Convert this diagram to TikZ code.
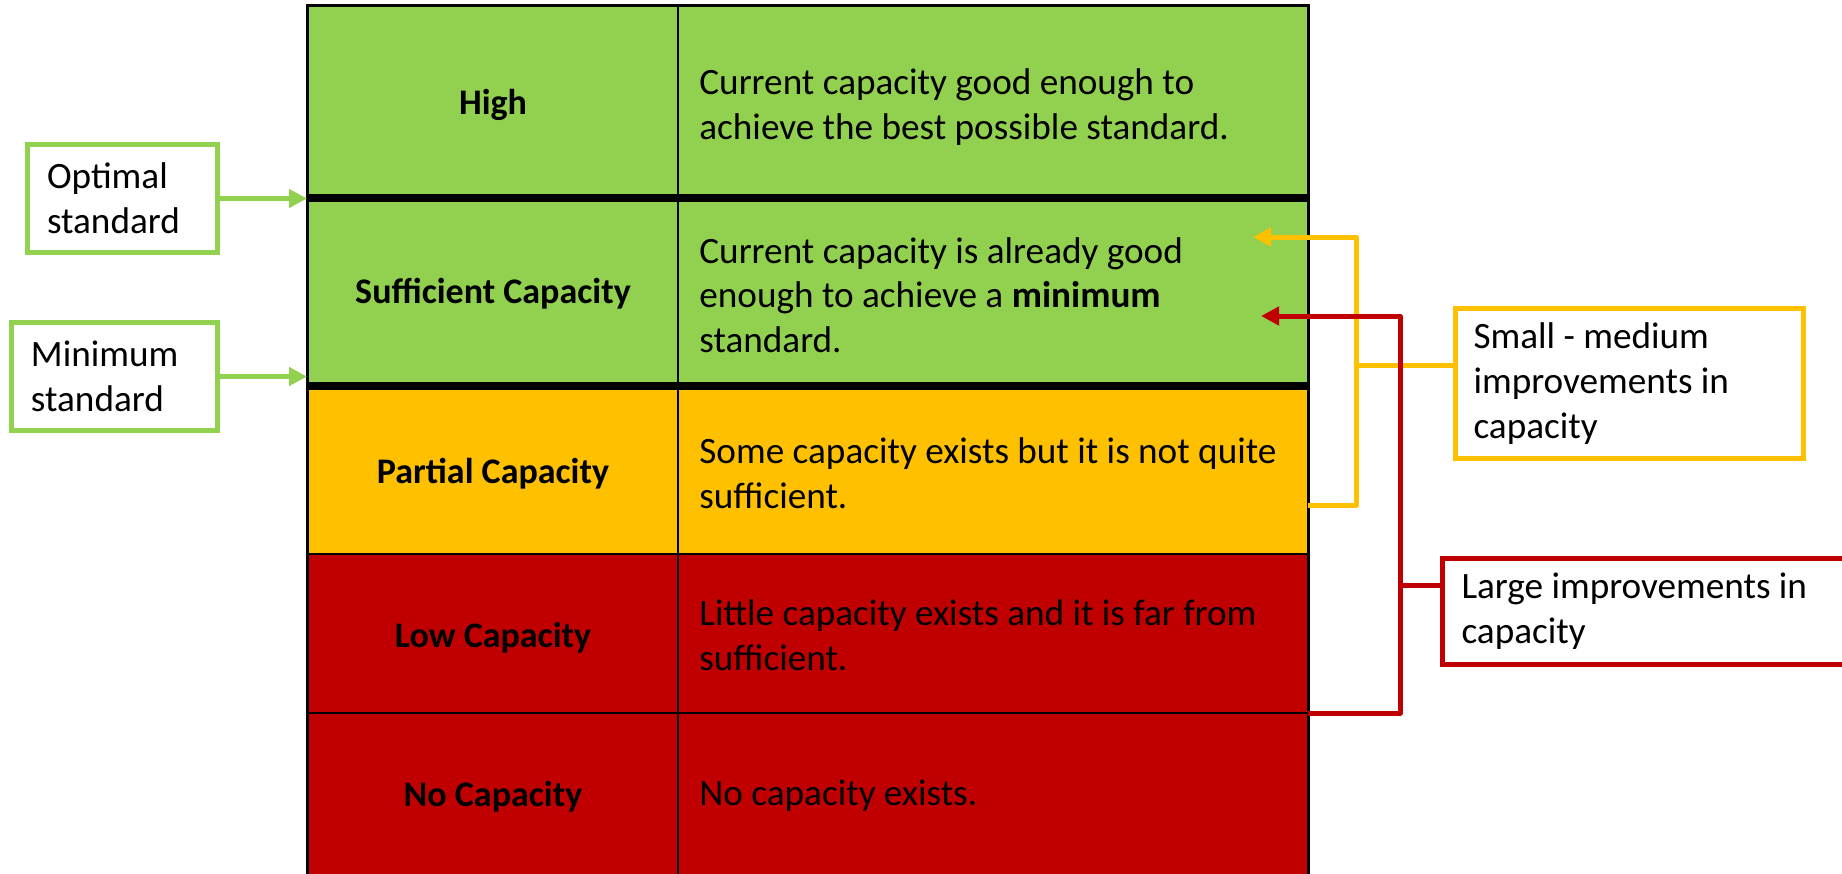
\documentclass[tikz,border=0pt]{standalone}
\usepackage{fontspec}
\setmainfont{Carlito}
\usetikzlibrary{arrows.meta}
\definecolor{cgreen}{HTML}{92D050}
\definecolor{cyel}{HTML}{FFC000}
\definecolor{cred}{HTML}{C00000}
\tikzset{
  txt/.style={font=\fontsize{18.6}{22.3}\selectfont, inner sep=0pt, align=left},
  lbl/.style={font=\fontsize{18}{22.3}\selectfont\bfseries, inner sep=0pt, align=center},
  sidebox/.style={draw, line width=2.5pt, fill=white, rectangle, align=flush left,
    font=\fontsize{18.6}{22.3}\selectfont, inner xsep=9.75pt, inner ysep=0pt},
  conn/.style={line width=2.5pt},
  tip/.style={-{Triangle[length=9pt,width=9pt]}},
  thinrule/.style={line width=1.2pt, black},
  thickrule/.style={line width=4pt, black}
}
\begin{document}
\begin{tikzpicture}[x=0.5pt,y=-0.5pt]
\useasboundingbox (0,0) rectangle (1842,873);
% cell fills
\fill[cgreen] (307,5) rectangle (1308,386);
\fill[cyel] (307,386) rectangle (1308,554);
\fill[cred] (307,554) rectangle (1308,880);
% rules
\draw[thinrule] (678,5) -- (678,880);
\draw[thinrule] (307,554) -- (1308,554);
\draw[thinrule] (307,713) -- (1308,713);
\draw[thickrule] (307,198) -- (1308,198);
\draw[thickrule] (307,386) -- (1308,386);
\draw[line width=1.5pt] (307,880) -- (307,5) -- (1308,5) -- (1308,880);
% named table edge coordinates
\coordinate (tleft) at (307,0);
\coordinate (tright) at (1308,0);
% first column labels
\node[lbl] (high) at (493,105) {High};
\node[lbl] (suff) at (493,294) {Sufficient Capacity};
\node[lbl] (part) at (493,474) {Partial Capacity};
\node[lbl] (low) at (493,638) {Low Capacity};
\node[lbl] (none) at (493,797) {No Capacity};
% descriptions
\node[txt, anchor=west] (dhigh) at (699,107) {Current capacity good enough to\\achieve the best possible standard.};
\node[txt, anchor=west] (dsuff) at (699,295) {Current capacity is already good\\enough to achieve a \textbf{minimum}\\standard.};
\node[txt, anchor=west] (dpart) at (699,473) {Some capacity exists but it is not quite\\sufficient.};
\node[txt, anchor=west] (dlow) at (699,635) {Little capacity exists and it is far from\\sufficient.};
\node[txt, anchor=west] (dnone) at (699,796) {No capacity exists.};
% left boxes
\node[sidebox, draw=cgreen, text width=75.5pt, minimum width=95pt, minimum height=54pt] (opt) at (122.5,198.5) {Optimal\\standard};
\node[sidebox, draw=cgreen, text width=83.5pt, minimum width=103pt, minimum height=54pt] (mins) at (114.5,376.5) {Minimum\\standard};
\draw[conn, cgreen, tip] (opt.east) -- (opt.east -| tleft);
\draw[conn, cgreen, tip] (mins.east) -- (mins.east -| tleft);
% right boxes
\node[sidebox, draw=cyel, text width=156pt, minimum width=174pt, minimum height=75pt, inner xsep=9pt] (ybox) at (1629.5,383.5) {Small - medium\\improvements in\\capacity};
\node[sidebox, draw=cred, anchor=west, text width=196pt, minimum width=215pt, minimum height=53pt, inner xsep=9.5pt] (rbox) at (1440,611) {Large improvements in\\capacity};
% yellow bracket
\coordinate (ybot) at (1308,505);
\coordinate (ycorner1) at (1356,505);
\coordinate (ycorner2) at (1356,237);
\coordinate (ytip) at (1253,237);
\coordinate (ymid) at (1356,365);
\draw[conn, cyel, line join=round, tip] (ybot) -- (ycorner1) -- (ycorner2) -- (ytip);
\draw[conn, cyel] (ymid) -- (ymid -| ybox.west);
% red bracket
\coordinate (rbot) at (1308,713);
\coordinate (rcorner1) at (1400,713);
\coordinate (rcorner2) at (1400,316);
\coordinate (rtip) at (1261,316);
\coordinate (rmid) at (1400,585);
\draw[conn, cred, line join=round, tip] (rbot) -- (rcorner1) -- (rcorner2) -- (rtip);
\draw[conn, cred] (rmid) -- (rmid -| rbox.west);
\end{tikzpicture}
\end{document}
